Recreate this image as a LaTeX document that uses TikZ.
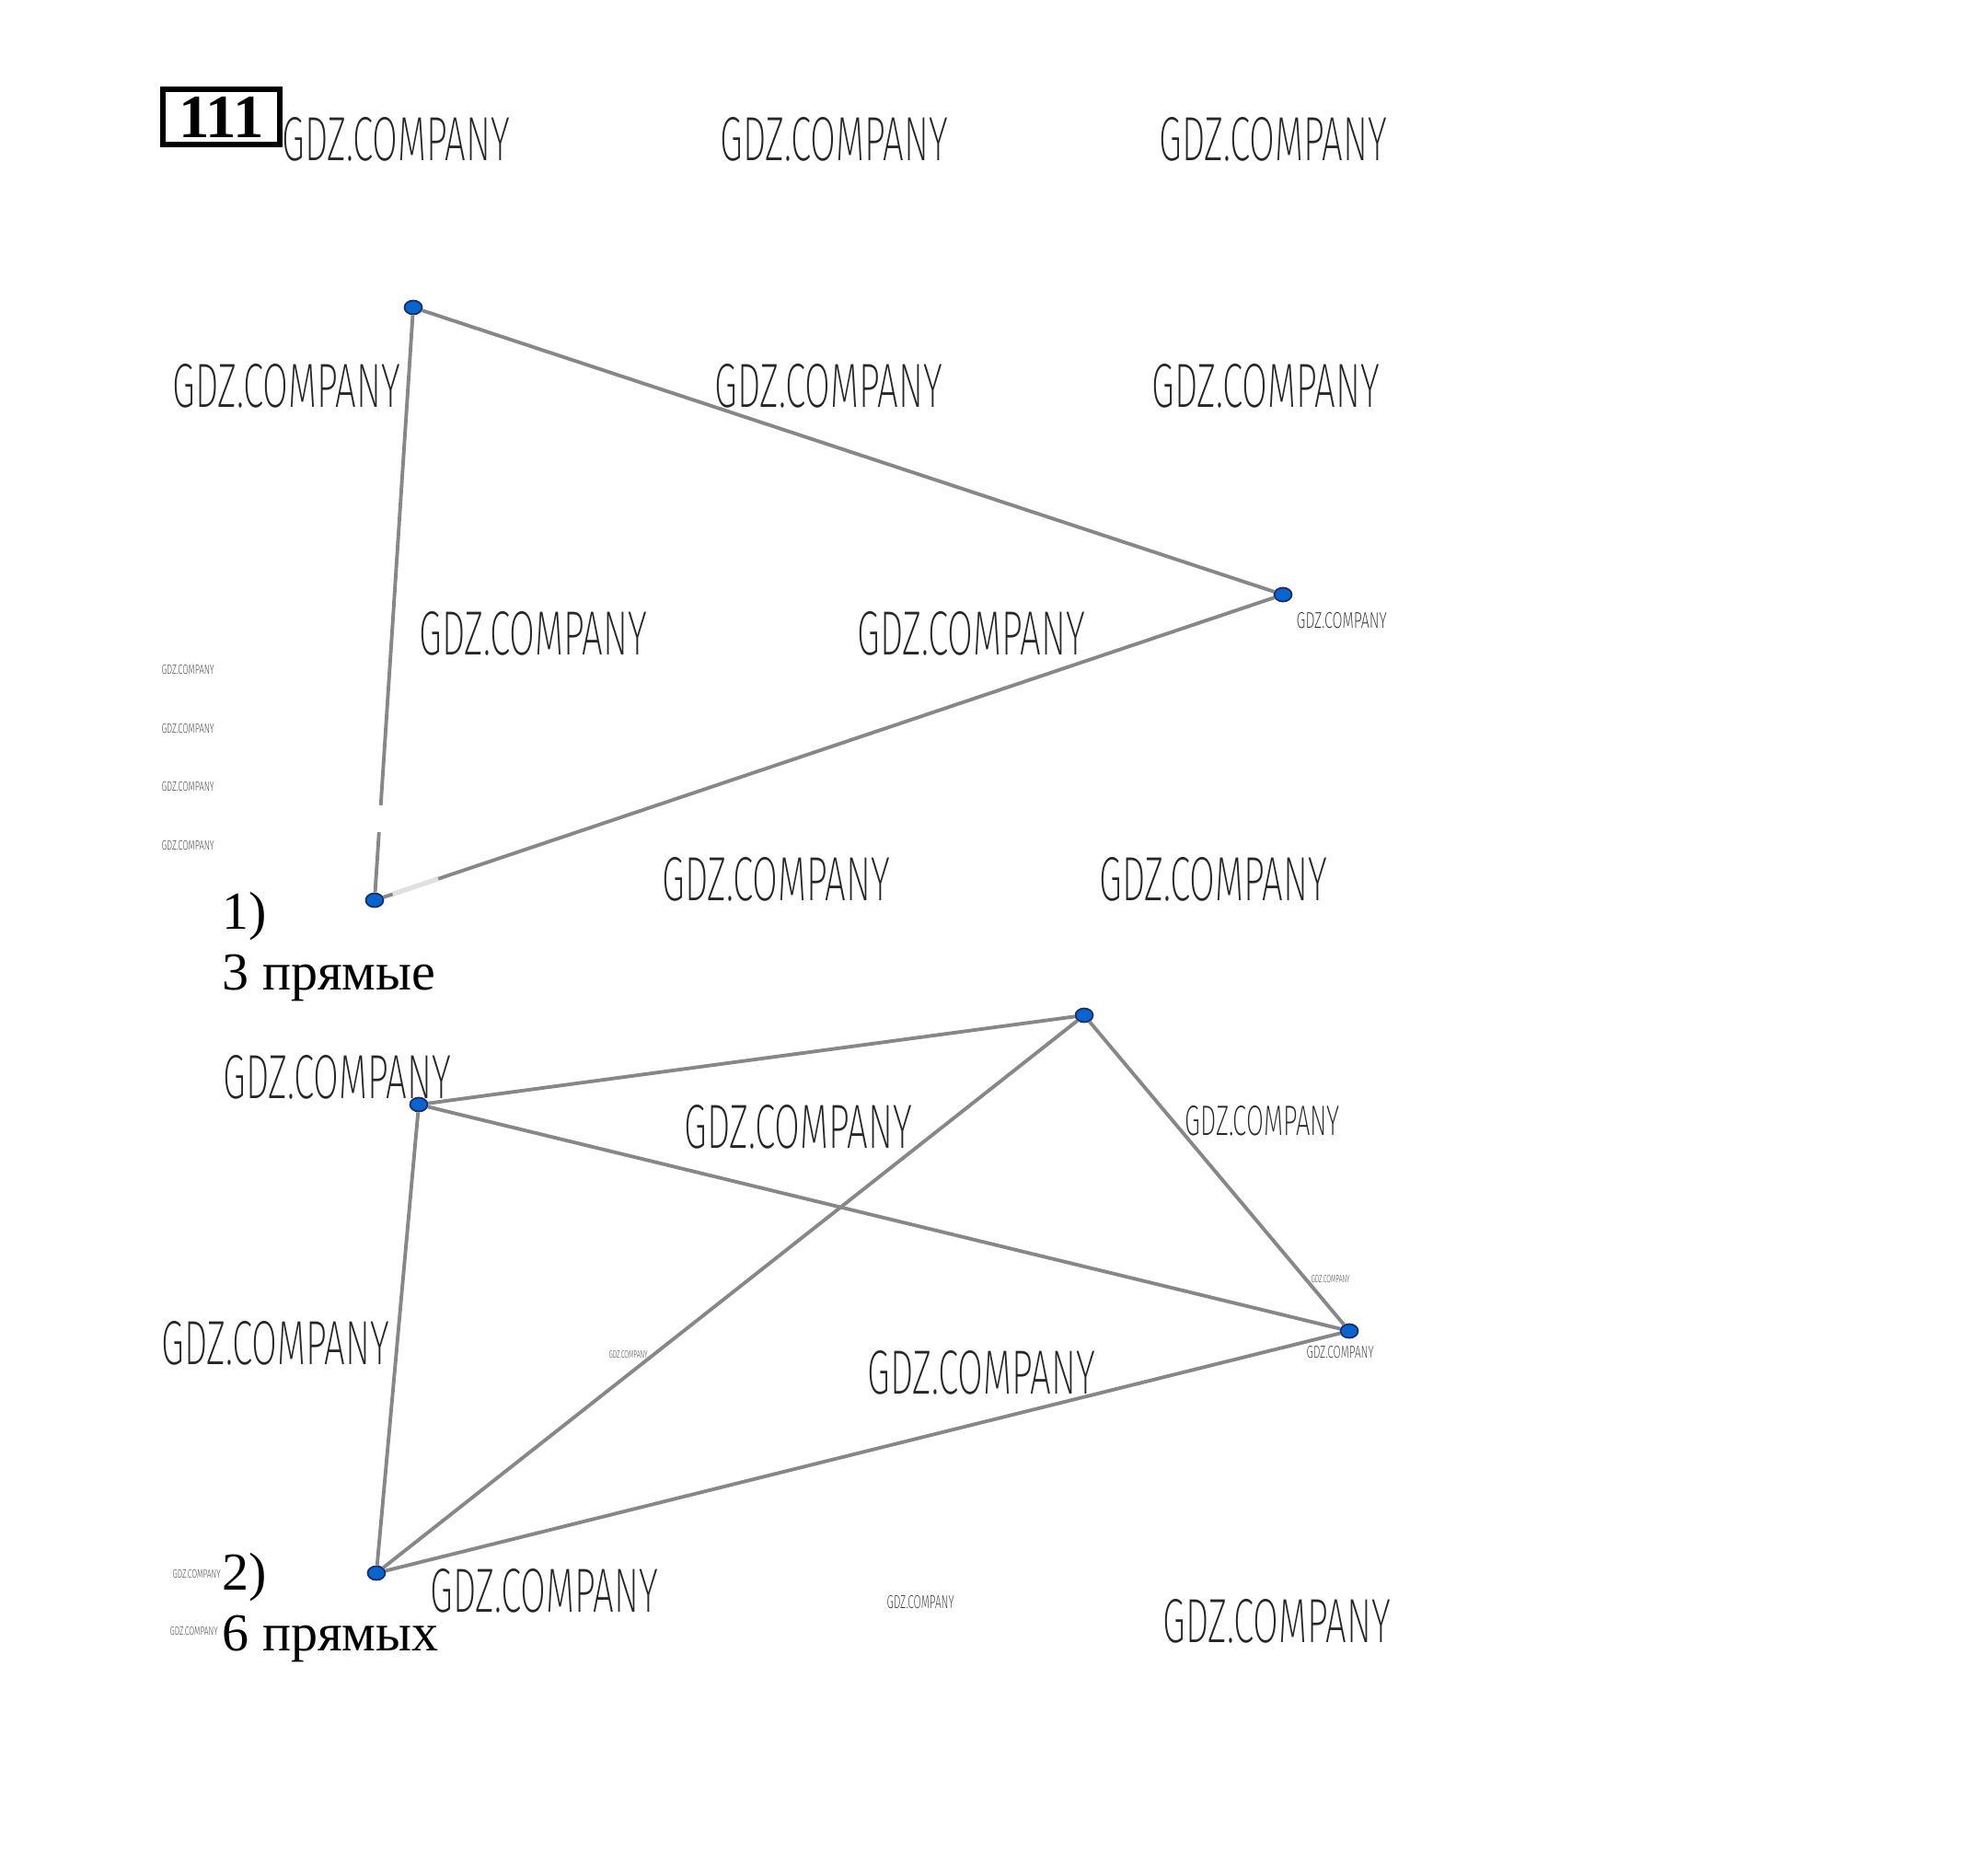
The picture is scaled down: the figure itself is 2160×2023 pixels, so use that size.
\documentclass[tikz,border=0pt]{standalone}
\usepackage{fontspec}
\setmainfont{Liberation Serif}
\newfontfamily\wmfont{Fira Sans ExtraLight}
\usetikzlibrary{shapes.geometric,calc}

\definecolor{dotblue}{RGB}{10,100,205}
\definecolor{dotedge}{RGB}{25,45,105}
\definecolor{linegray}{RGB}{135,135,135}

\newcommand{\wm}[2]{\resizebox{#1cm}{#2cm}{\wmfont GDZ.COMPANY}}

\begin{document}
\begin{tikzpicture}[x=0.01cm, y=-0.01cm,
    dot/.style={ellipse, draw=dotedge, fill=dotblue, line width=0.5pt, minimum width=0.19cm, minimum height=0.15cm, inner sep=0pt},
    seg/.style={draw=linegray, line width=1.1pt},
    lbl/.style={anchor=base west, inner sep=0pt, font=\fontsize{16.5}{16.5}\selectfont},
    wmark/.style={anchor=north west, inner sep=0pt, text=black!85}]
    \useasboundingbox (0,0) rectangle (2160,2023);

    % Number
    \node[draw, line width=1.7pt, minimum width=1.27cm, minimum height=0.6cm, inner sep=0pt, font=\bfseries\fontsize{19}{19}\selectfont] at (240.5, 127) (num) {111};

    % Watermarks
    \node[wmark] at (306, 127) (wm1) {\wm{2.47}{0.47}};
    \node[wmark] at (782, 127) (wm2) {\wm{2.47}{0.47}};
    \node[wmark] at (1259, 127) (wm3) {\wm{2.47}{0.47}};
    \node[wmark] at (187, 395) (wm4) {\wm{2.47}{0.47}};
    \node[wmark] at (776, 395) (wm5) {\wm{2.47}{0.47}};
    \node[wmark] at (1251, 395) (wm6) {\wm{2.47}{0.47}};
    \node[wmark] at (455, 664) (wm7) {\wm{2.47}{0.47}};
    \node[wmark] at (931, 664) (wm8) {\wm{2.47}{0.47}};
    \node[wmark] at (719, 931) (wm9) {\wm{2.47}{0.47}};
    \node[wmark] at (1194, 931) (wm10) {\wm{2.47}{0.47}};
    \node[wmark] at (242, 1146) (wm11) {\wm{2.47}{0.47}};
    \node[wmark] at (743, 1200) (wm12) {\wm{2.47}{0.47}};
    \node[wmark] at (1287, 1201) (wm13) {\wm{1.68}{0.32}};
    \node[wmark] at (175, 1435) (wm14) {\wm{2.47}{0.47}};
    \node[wmark] at (942, 1467) (wm15) {\wm{2.47}{0.47}};
    \node[wmark] at (467, 1704) (wm16) {\wm{2.47}{0.47}};
    \node[wmark] at (1263, 1737) (wm17) {\wm{2.47}{0.47}};
    \node[wmark] at (1408, 665) (wm18) {\wm{0.98}{0.17}};
    \node[wmark] at (175, 722) (wm19) {\wm{0.57}{0.10}};
    \node[wmark] at (175, 786) (wm20) {\wm{0.57}{0.10}};
    \node[wmark] at (175, 849) (wm21) {\wm{0.57}{0.10}};
    \node[wmark] at (175, 913) (wm22) {\wm{0.57}{0.10}};
    \node[wmark] at (1424, 1385) (wm23) {\wm{0.42}{0.08}};
    \node[wmark] at (1419, 1462) (wm24) {\wm{0.73}{0.13}};
    \node[wmark] at (661, 1467) (wm25) {\wm{0.42}{0.08}};
    \node[wmark] at (187, 1705) (wm26) {\wm{0.52}{0.09}};
    \node[wmark] at (184, 1767) (wm27) {\wm{0.52}{0.09}};
    \node[wmark] at (963, 1733) (wm28) {\wm{0.73}{0.14}};

    % 1)
    \node[dot] at (449, 334) (a1) {};
    \node[dot] at (1394, 646) (b1) {};
    \node[dot] at (407, 978) (c1) {};

    \draw[seg] (a1) edge (b1);
    \draw[seg] (b1) edge (c1);
    \draw[seg] (a1) edge (c1);
    % erased bits
    \draw[white, line width=1.5pt] ($(a1)!0.84!(c1)$) -- ($(a1)!0.885!(c1)$);
    \draw[black!12, line width=1.5pt] ($(c1)!0.02!(b1)$) -- ($(c1)!0.07!(b1)$);

    \node[lbl] at (241, 1009) (t1) {1)};
    \node[lbl] at (241, 1075) (n1) {3 прямые};

    % 2)
    \node[dot] at (455, 1200) (a2) {};
    \node[dot] at (1178, 1103) (b2) {};
    \node[dot] at (1466, 1446) (c2) {};
    \node[dot] at (409, 1709) (d2) {};

    \draw[seg] (a2) edge (b2);
    \draw[seg] (a2) edge (c2);
    \draw[seg] (a2) edge (d2);
    \draw[seg] (b2) edge (c2);
    \draw[seg] (b2) edge (d2);
    \draw[seg] (d2) edge (c2);

    \node[lbl] at (241, 1727) (t2) {2)};
    \node[lbl] at (241, 1793) (n2) {6 прямых};

  \end{tikzpicture}
\end{document}
